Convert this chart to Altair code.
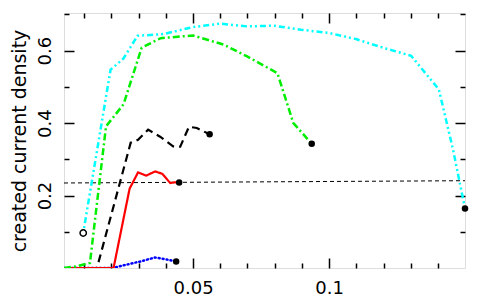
import altair as alt
import pandas as pd

# ---------------- data ----------------
x_domain = [0.0026, 0.1499]
y_domain = [0.0, 0.704]

x_ticks = [0.01, 0.02, 0.03, 0.04, 0.05, 0.06, 0.07, 0.08, 0.09, 0.10, 0.11, 0.12, 0.13, 0.14]
x_major = [0.05, 0.1]
x_major_labels = ["0.05", "0.1"]
y_ticks = [0.1, 0.2, 0.3, 0.4, 0.5, 0.6, 0.7]
y_major = [0.2, 0.4, 0.6]
y_major_labels = ["0.2", "0.4", "0.6"]

cyan_x = [0.00966, 0.0158, 0.0197, 0.0244, 0.0296, 0.0392, 0.0499, 0.0601, 0.0699, 0.0797,
          0.0896, 0.0999, 0.1098, 0.1203, 0.1301, 0.1403, 0.1455, 0.1499]
cyan_y = [0.0966, 0.372, 0.5475, 0.578, 0.641, 0.646, 0.665, 0.6745, 0.667, 0.669,
          0.658, 0.649, 0.632, 0.607, 0.586, 0.493, 0.327, 0.164]

green_x = [0.0026, 0.00697, 0.01213, 0.01803, 0.02448, 0.03112, 0.03813, 0.05, 0.0613, 0.0699,
           0.081, 0.0868, 0.0936]
green_y = [0.0, 0.0044, 0.0138, 0.391, 0.452, 0.608, 0.6345, 0.642, 0.6165, 0.584,
           0.538, 0.401, 0.343]

black_x = [0.0026, 0.0147, 0.0271, 0.0298, 0.0335, 0.0379, 0.0427, 0.0453, 0.0485, 0.0514, 0.0561]
black_y = [0.0, 0.0, 0.346, 0.354, 0.382, 0.3625, 0.336, 0.335, 0.390, 0.3865, 0.369]

red_x = [0.0026, 0.0208, 0.0267, 0.0298, 0.0328, 0.0361, 0.0387, 0.0416, 0.0431, 0.0449]
red_y = [0.0, 0.0, 0.219, 0.264, 0.255, 0.2667, 0.260, 0.2347, 0.2363, 0.2363]

blue_x = [0.0026, 0.0206, 0.0254, 0.0306, 0.036, 0.0401, 0.0438]
blue_y = [0.0, 0.0, 0.009, 0.018, 0.029, 0.024, 0.018]

ref_x = [0.0026, 0.1499]
ref_y = [0.2347, 0.241]

FONT = "DejaVu Sans"

xs = alt.Scale(domain=x_domain, nice=False, zero=False)
ys = alt.Scale(domain=y_domain, nice=False, zero=False)


def major_test(vals):
    return " || ".join(f"abs(datum.value-{v})<1e-6" for v in vals)


def label_expr(vals, labs):
    e = "''"
    for v, l in reversed(list(zip(vals, labs))):
        e = f"abs(datum.value-{v})<1e-6 ? '{l}' : ({e})"
    return e


def make_axis(orient, ticks, major, labels_vals=None, labels=None, title=None):
    kw = dict(
        orient=orient,
        values=ticks,
        tickSize={"expr": f"({major_test(major)}) ? -10 : -5"},
        tickWidth=1.5,
        tickColor="black",
        domain=False,
        grid=False,
    )
    if labels is None:
        kw.update(labels=False, title=None)
    else:
        kw.update(
            labelExpr=label_expr(labels_vals, labels),
            labelFont=FONT,
            labelFontSize=18,
            labelColor="black",
            labelOverlap=False,
            labelFlush=False,
        )
        if orient == "left":
            kw.update(labelAngle=270, labelAlign="center", labelBaseline="bottom", labelPadding=20)
        else:
            kw.update(labelAngle=0, labelAlign="center", labelBaseline="top", labelPadding=21)
        if title:
            kw.update(title=title, titleFont=FONT, titleFontSize=19, titleFontWeight="normal",
                      titleColor="black", titleAngle=270, titleAlign="center",
                      titleBaseline="middle", titleX=-45, titleY=127.5)
        else:
            kw.update(title=None)
    return alt.Axis(**kw)


ax_bottom = make_axis("bottom", x_ticks, x_major, x_major, x_major_labels)
ax_left = make_axis("left", y_ticks, y_major, y_major, y_major_labels, "created current density")
ax_top = make_axis("top", x_ticks, x_major)
ax_right = make_axis("right", y_ticks, y_major)


def line_layer(xv, yv, color, dash, width, xaxis=None, yaxis=None, cap="butt"):
    df = pd.DataFrame({"x": xv, "y": yv, "i": list(range(len(xv)))})
    return alt.Chart(df).mark_line(
        color=color, strokeDash=dash, strokeWidth=width, strokeCap=cap, clip=True
    ).encode(
        x=alt.X("x:Q", scale=xs, axis=xaxis),
        y=alt.Y("y:Q", scale=ys, axis=yaxis),
        order="i:O",
    )


ref = line_layer(ref_x, ref_y, "black", [4, 3], 1, ax_bottom, ax_left)
cyan = line_layer(cyan_x, cyan_y, "#00FFFF", [2, 3, 2, 3, 6, 3], 2.5, ax_top, ax_right)
green = line_layer(green_x, green_y, "#00EE00", [7, 3, 2, 3], 2.5)
black = line_layer(black_x, black_y, "black", [8, 5], 2.2)
blue = line_layer(blue_x, blue_y, "#0000FF", [1, 3], 2.5, cap="round")
red = line_layer(red_x, red_y, "#FF0000", [1, 0], 2.2)

end_df = pd.DataFrame({
    "x": [cyan_x[-1], green_x[-1], black_x[-1], red_x[-1], blue_x[-1]],
    "y": [cyan_y[-1], green_y[-1], black_y[-1], red_y[-1], blue_y[-1]],
})
ends = alt.Chart(end_df).mark_circle(size=42, color="black", opacity=1).encode(
    x=alt.X("x:Q", scale=xs, axis=None), y=alt.Y("y:Q", scale=ys, axis=None)
)
start_df = pd.DataFrame({"x": [cyan_x[0]], "y": [cyan_y[0]]})
start = alt.Chart(start_df).mark_point(
    shape="circle", size=40, filled=True, fill="white", stroke="black", strokeWidth=1.5, opacity=1
).encode(x=alt.X("x:Q", scale=xs, axis=None), y=alt.Y("y:Q", scale=ys, axis=None))

chart = alt.layer(ref, blue, black, red, green, cyan, ends, start).resolve_axis(
    x="independent", y="independent"
).properties(
    width=401, height=255,
    autosize=alt.AutoSizeParams(type="none"),
    padding={"left": 56, "top": 5, "right": 7, "bottom": 28},
).configure_view(stroke="black", strokeWidth=2, fill="white").configure(background="white")

chart.save("out.html", embed_options={"renderer": "svg", "actions": False})
